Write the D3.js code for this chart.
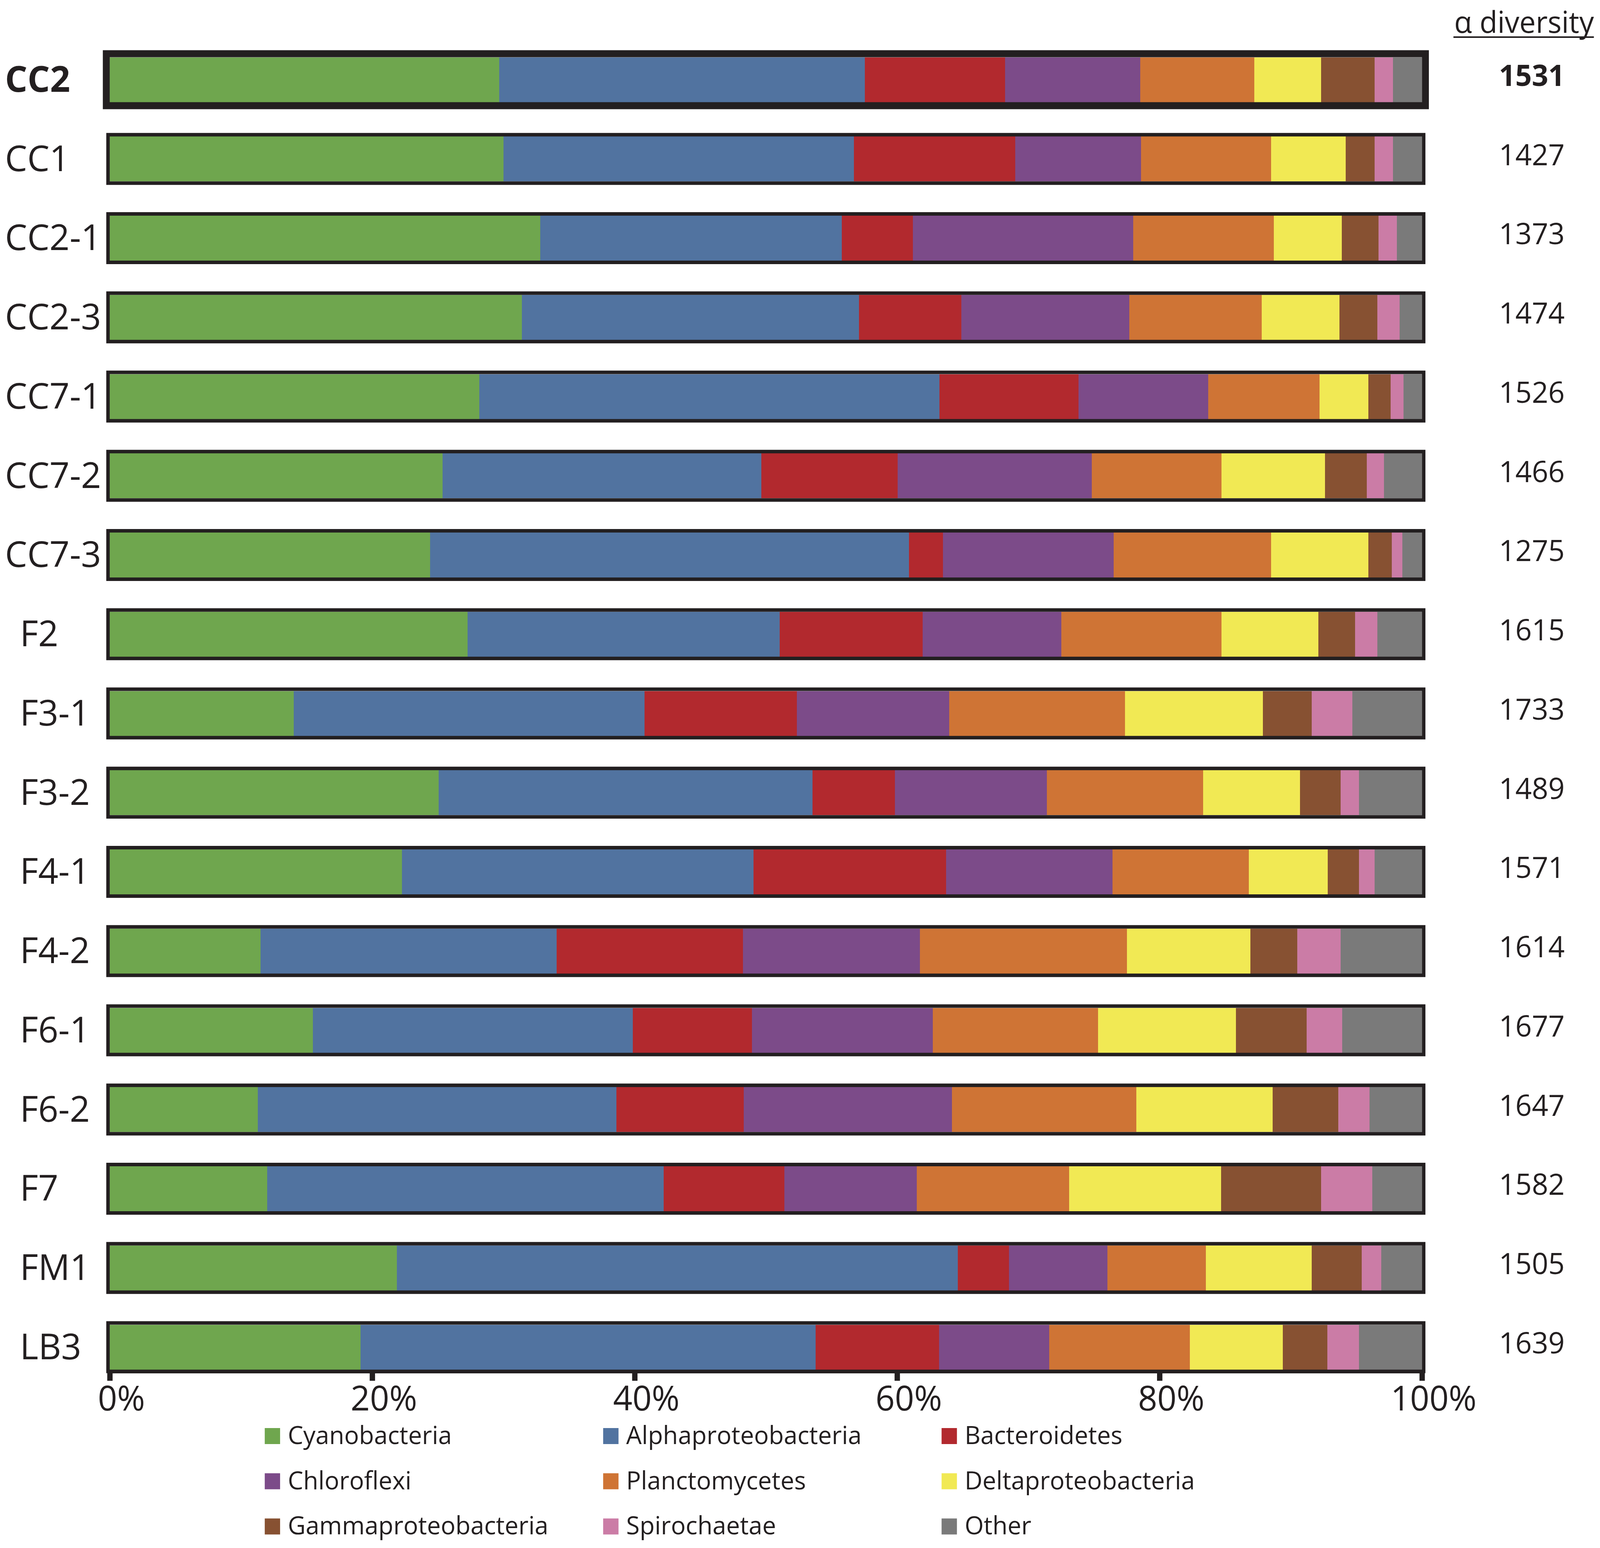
<!doctype html>
<html lang="en">
  <head>
    <meta charset="UTF-8" />
    <title>Phylum composition and alpha diversity</title>
    <script src="https://d3js.org/d3.v7.min.js"></script>
    <style>
      html,
      body {
        width: 100%;
        height: 100%;
        margin: 0;
        padding: 0;
        overflow: hidden; /* no scrollbars eating into the picture */
        background: #fff;
      }
      svg {
        display: block;
        width: 100vw;
        height: 100vh;
      }
      text {
        font-family: "Open Sans", "Noto Sans", sans-serif;
        fill: #231f20;
      }
    </style>
  </head>
  <body>
    <svg id="chart"></svg>

    <script>
      // samples, top to bottom
      const samples = ["CC2", "CC1", "CC2-1", "CC2-3", "CC7-1", "CC7-2", "CC7-3", "F2", "F3-1",
        "F3-2", "F4-1", "F4-2", "F6-1", "F6-2", "F7", "FM1", "LB3"];
      const alphaDiversity = [1531, 1427, 1373, 1474, 1526, 1466, 1275, 1615, 1733,
        1489, 1571, 1614, 1677, 1647, 1582, 1505, 1639];

      const phyla = ["Cyanobacteria", "Alphaproteobacteria", "Bacteroidetes", "Chloroflexi",
        "Planctomycetes", "Deltaproteobacteria", "Gammaproteobacteria", "Spirochaetae", "Other"];
      const phylumColors = ["#6fa64e", "#5173a0", "#b2292e", "#7c4b89", "#cf7435",
        "#f1e954", "#875132", "#cb7ca6", "#7a7a7a"];

      // relative abundance (%) per phylum, same order as samples
      const cyanobacteria = [29.7, 30.0, 32.8, 31.4, 28.2, 25.4, 24.4, 27.3, 14.0, 25.1, 22.3, 11.5, 15.5, 11.3, 12.0, 21.9, 19.1];
      const alphaproteobacteria = [27.9, 26.7, 23.0, 25.7, 35.1, 24.3, 36.5, 23.8, 26.7, 28.5, 26.8, 22.6, 24.4, 27.4, 30.2, 42.8, 34.7];
      const bacteroidetes = [10.7, 12.3, 5.4, 7.8, 10.6, 10.4, 2.6, 10.9, 11.6, 6.3, 14.7, 14.2, 9.1, 9.7, 9.2, 3.9, 9.4];
      const chloroflexi = [10.3, 9.6, 16.8, 12.8, 9.9, 14.8, 13.0, 10.6, 11.6, 11.6, 12.7, 13.5, 13.8, 15.9, 10.1, 7.5, 8.4];
      const planctomycetes = [8.7, 9.9, 10.7, 10.1, 8.5, 9.9, 12.0, 12.2, 13.4, 11.9, 10.4, 15.8, 12.6, 14.1, 11.6, 7.5, 10.7];
      const deltaproteobacteria = [5.1, 5.7, 5.2, 5.9, 3.7, 7.9, 7.4, 7.4, 10.5, 7.4, 6.0, 9.4, 10.5, 10.4, 11.6, 8.1, 7.1];
      const gammaproteobacteria = [4.1, 2.2, 2.8, 2.9, 1.7, 3.2, 1.8, 2.8, 3.7, 3.1, 2.4, 3.6, 5.4, 5.0, 7.6, 3.8, 3.4];
      const spirochaetae = [1.4, 1.4, 1.4, 1.7, 1.0, 1.3, 0.8, 1.7, 3.1, 1.4, 1.2, 3.3, 2.7, 2.4, 3.9, 1.5, 2.4];
      const other = [2.2, 2.2, 1.9, 1.7, 1.4, 2.9, 1.5, 3.4, 5.3, 4.8, 3.6, 6.2, 6.1, 4.0, 3.8, 3.1, 4.8];

      const ticks = [0, 0.2, 0.4, 0.6, 0.8, 1];
      const highlighted = "CC2";

      const width = 4170;
      const height = 3962;
      const ink = "#231f20";

      const series = [cyanobacteria, alphaproteobacteria, bacteroidetes, chloroflexi,
        planctomycetes, deltaproteobacteria, gammaproteobacteria, spirochaetae, other];

      // one row per sample for d3.stack
      const table = samples.map((s, i) => {
        const row = { sample: s, alpha: alphaDiversity[i] };
        phyla.forEach((p, j) => (row[p] = series[j][i]));
        return row;
      });

      // draw in 4170x3962 units, stretched onto whatever the window really is
      const svg = d3.select("#chart")
        .attr("viewBox", `0 0 ${width} ${height}`)
        .attr("preserveAspectRatio", "none");

      const x = d3.scaleLinear().domain([0, 1]).range([286, 3706]);
      const y = d3.scalePoint().domain(samples).range([204, 3448]);
      const color = d3.scaleOrdinal().domain(phyla).range(phylumColors);

      const barH = 115;

      const stacked = d3.stack().keys(phyla).offset(d3.stackOffsetExpand)(table);

      // segments
      svg.append("g")
        .selectAll("g")
        .data(stacked)
        .join("g")
        .attr("fill", (d) => color(d.key))
        .selectAll("rect")
        .data((d) => d)
        .join("rect")
        .attr("x", (d) => x(d[0]))
        .attr("width", (d) => x(d[1]) - x(d[0]))
        .attr("y", (d) => y(d.data.sample) - barH / 2)
        .attr("height", barH)
        .attr("shape-rendering", "crispEdges");

      // black frames around each bar (thicker for CC2)
      const sw = (s) => (s === highlighted ? 18 : 9);
      svg.append("g")
        .selectAll("rect")
        .data(samples)
        .join("rect")
        .attr("x", (s) => x(0) - sw(s) / 2)
        .attr("width", (s) => x(1) - x(0) + sw(s))
        .attr("y", (s) => y(s) - barH / 2 - sw(s) / 2)
        .attr("height", (s) => barH + sw(s))
        .attr("fill", "none")
        .attr("stroke", ink)
        .attr("stroke-width", sw);

      // sample labels
      svg.append("g")
        .selectAll("text")
        .data(samples)
        .join("text")
        .attr("x", (s) => (s.startsWith("CC") ? 13 : 52))
        .attr("y", (s) => y(s) + 31)
        .style("font-size", "92px")
        .style("font-weight", (s) => (s === highlighted ? 700 : 400))
        .text((s) => s);

      // alpha diversity column
      const header = svg.append("text")
        .attr("x", 3790)
        .attr("y", 84)
        .style("font-size", "76px")
        .text("α diversity");
      const hw = header.node().getComputedTextLength();
      svg.append("line")
        .attr("x1", 3788)
        .attr("x2", 3790 + hw)
        .attr("y1", 95)
        .attr("y2", 95)
        .attr("stroke", ink)
        .attr("stroke-width", 4);

      svg.append("g")
        .selectAll("text")
        .data(table)
        .join("text")
        .attr("x", 4078)
        .attr("y", (d) => y(d.sample) + 16)
        .attr("text-anchor", "end")
        .style("font-size", "75px")
        .style("font-weight", (d) => (d.sample === highlighted ? 700 : 400))
        .text((d) => d.alpha);

      // x axis sits on the bottom frame of the last bar
      const axisY = y(samples[samples.length - 1]) + barH / 2 + 4.5;
      const axis = svg.append("g")
        .attr("transform", `translate(0,${axisY})`)
        .call(
          d3.axisBottom(x)
            .tickValues(ticks)
            .tickFormat(d3.format(".0%"))
            .tickSize(24)
            .tickSizeOuter(0)
        );
      axis.select(".domain").attr("stroke", ink).attr("stroke-width", 9);
      axis.selectAll(".tick line").attr("stroke", ink).attr("stroke-width", 14);
      axis.selectAll(".tick text")
        .attr("y", 100)
        .attr("dy", 0)
        .attr("dx", 30)
        .attr("fill", ink)
        .style("font-size", "88px")
        .style("font-family", '"Open Sans", "Noto Sans", sans-serif');

      // legend, 3 x 3
      const legend = svg.append("g")
        .selectAll("g")
        .data(phyla)
        .join("g")
        .attr("transform", (p, i) => `translate(${690 + (i % 3) * 882},${3655 + Math.floor(i / 3) * 115.7})`);
      legend.append("rect")
        .attr("width", 40)
        .attr("height", 41)
        .attr("fill", (p) => color(p));
      legend.append("text")
        .attr("x", 60)
        .attr("y", 41)
        .style("font-size", "64px")
        .text((p) => p);
    </script>
  </body>
</html>
